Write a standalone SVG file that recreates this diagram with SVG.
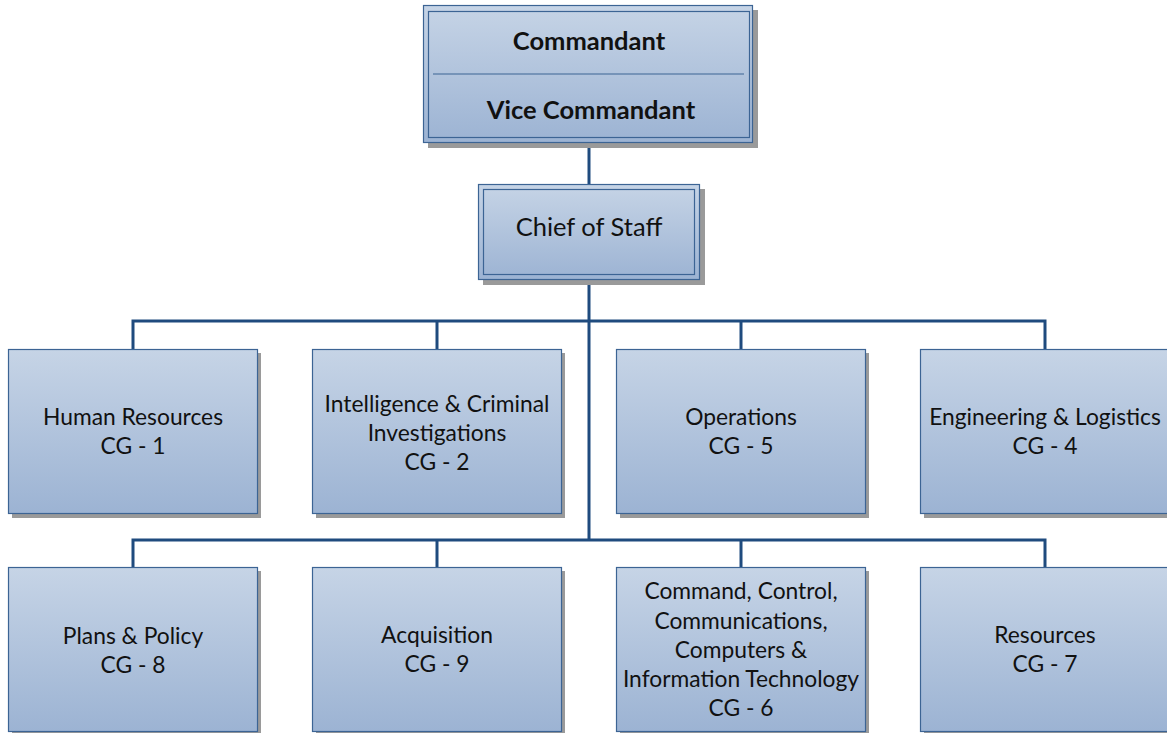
<svg xmlns="http://www.w3.org/2000/svg" width="1167" height="733" viewBox="0 0 1167 733">
<defs>
<linearGradient id="g" x1="0" y1="0" x2="0" y2="1">
<stop offset="0" stop-color="#C6D4E6"/>
<stop offset="1" stop-color="#9CB3D3"/>
</linearGradient>
<style>
.sh{fill:#9A9A9A}
.box{fill:url(#g);stroke:#3C6494;stroke-width:1.2}
.inner{fill:none;stroke:#3C6494;stroke-width:1.2}
.con{fill:none;stroke:#1F4B7E;stroke-width:3}
text{font-family:Lato,"Liberation Sans",sans-serif;font-size:22.8px;fill:#111;text-anchor:middle;dominant-baseline:central}
.b{font-weight:bold;font-size:25.5px}
.cs{font-size:25.5px}
</style>
</defs>
<rect width="1167" height="733" fill="#fff"/>
<g id="connectors">
<line class="con" x1="589" y1="143" x2="589" y2="184"/>
<line class="con" x1="589" y1="280" x2="589" y2="541"/>
<polyline class="con" points="133,349 133,321 1045,321 1045,349"/>
<line class="con" x1="437" y1="321" x2="437" y2="349"/>
<line class="con" x1="741" y1="321" x2="741" y2="349"/>
<polyline class="con" points="133,567 133,540 1045,540 1045,567"/>
<line class="con" x1="437" y1="540" x2="437" y2="567"/>
<line class="con" x1="741" y1="540" x2="741" y2="567"/>
</g>
<g id="commandant">
<rect class="sh" x="428" y="10" width="330" height="138"/>
<rect class="box" x="423.5" y="5.5" width="329" height="137"/>
<rect class="inner" x="428.5" y="11.5" width="321" height="126"/>
<line x1="433" y1="74" x2="744" y2="74" stroke="#3C6494" stroke-width="1.2"/>
<text class="b" x="589" y="40">Commandant</text>
<text class="b" x="591" y="109">Vice Commandant</text>
</g>
<g id="chief">
<rect class="sh" x="483" y="189" width="222" height="96"/>
<rect class="box" x="478.5" y="184.5" width="221" height="95"/>
<rect class="inner" x="483.5" y="189.5" width="211" height="85"/>
<text class="cs" x="589" y="226">Chief of Staff</text>
</g>
<g id="hr">
<rect class="sh" x="12" y="353" width="249" height="165"/>
<rect class="box" x="8.5" y="349.5" width="249" height="164"/>
<text x="133" y="416">Human Resources</text>
<text x="133" y="445">CG - 1</text>
</g>
<g id="intel">
<rect class="sh" x="316" y="353" width="249" height="165"/>
<rect class="box" x="312.5" y="349.5" width="249" height="164"/>
<text x="437" y="403">Intelligence &amp; Criminal</text>
<text x="437" y="432">Investigations</text>
<text x="437" y="461">CG - 2</text>
</g>
<g id="ops">
<rect class="sh" x="620" y="353" width="249" height="165"/>
<rect class="box" x="616.5" y="349.5" width="249" height="164"/>
<text x="741" y="416">Operations</text>
<text x="741" y="445">CG - 5</text>
</g>
<g id="eng">
<rect class="sh" x="924" y="353" width="249" height="165"/>
<rect class="box" x="920.5" y="349.5" width="249" height="164"/>
<text x="1045" y="416">Engineering &amp; Logistics</text>
<text x="1045" y="445">CG - 4</text>
</g>
<g id="plans">
<rect class="sh" x="12" y="571" width="249" height="165"/>
<rect class="box" x="8.5" y="567.5" width="249" height="164"/>
<text x="133" y="635">Plans &amp; Policy</text>
<text x="133" y="664">CG - 8</text>
</g>
<g id="acq">
<rect class="sh" x="316" y="571" width="249" height="165"/>
<rect class="box" x="312.5" y="567.5" width="249" height="164"/>
<text x="437" y="634">Acquisition</text>
<text x="437" y="663">CG - 9</text>
</g>
<g id="c4it">
<rect class="sh" x="620" y="571" width="249" height="165"/>
<rect class="box" x="616.5" y="567.5" width="249" height="164"/>
<text x="741" y="590">Command, Control,</text>
<text x="741" y="620">Communications,</text>
<text x="741" y="649">Computers &amp;</text>
<text x="741" y="678">Information Technology</text>
<text x="741" y="707">CG - 6</text>
</g>
<g id="res">
<rect class="sh" x="924" y="571" width="249" height="165"/>
<rect class="box" x="920.5" y="567.5" width="249" height="164"/>
<text x="1045" y="634">Resources</text>
<text x="1045" y="663">CG - 7</text>
</g>
</svg>
